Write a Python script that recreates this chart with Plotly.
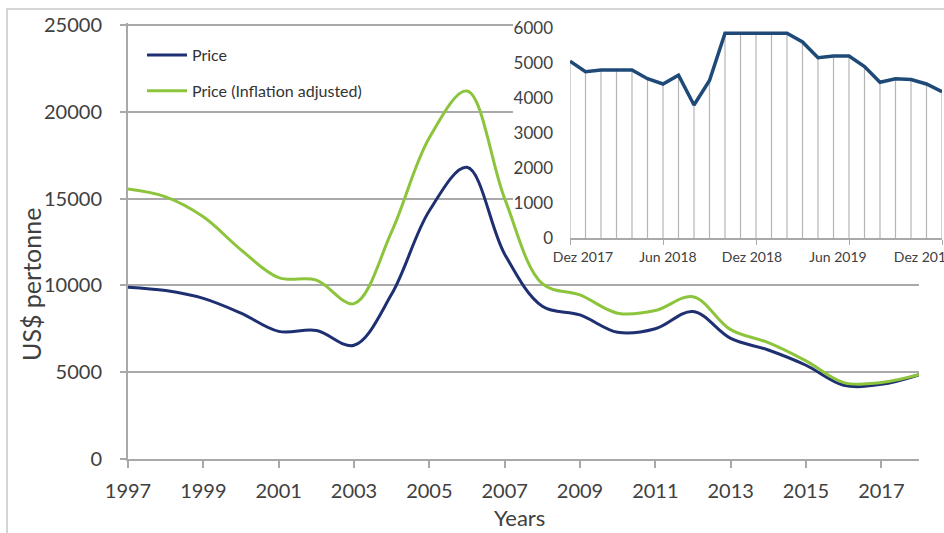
import plotly.graph_objects as go

# ---------------- data ----------------
years = [1997, 1998, 1999, 2000, 2001, 2002, 2003, 2004, 2005, 2006, 2007,
         2008, 2009, 2010, 2011, 2012, 2013, 2014, 2015, 2016, 2017, 2018]
price = [9900, 9700, 9250, 8400, 7350, 7400, 6550, 9500, 14300, 16800, 11800,
         8800, 8300, 7300, 7500, 8500, 6950, 6280, 5400, 4250, 4300, 4850]
price_adj = [15550, 15100, 13950, 12050, 10450, 10300, 8950, 13100, 18500, 21200, 15000,
             10100, 9450, 8400, 8550, 9350, 7450, 6700, 5650, 4400, 4400, 4850]
main_xticks = [1997, 1999, 2001, 2003, 2005, 2007, 2009, 2011, 2013, 2015, 2017]
main_yticks = [0, 5000, 10000, 15000, 20000, 25000]

inset_months = ["Dez 2017", "Jan 2018", "Feb 2018", "Mär 2018", "Apr 2018", "Mai 2018",
                "Jun 2018", "Jul 2018", "Aug 2018", "Sep 2018", "Okt 2018", "Nov 2018",
                "Dez 2018", "Jan 2019", "Feb 2019", "Mär 2019", "Apr 2019", "Mai 2019",
                "Jun 2019", "Jul 2019", "Aug 2019", "Sep 2019", "Okt 2019", "Nov 2019",
                "Dez 2019"]
inset_values = [5050, 4750, 4800, 4800, 4800, 4550, 4400, 4650, 3800, 4500, 5850, 5850,
                5850, 5850, 5850, 5600, 5150, 5200, 5200, 4900, 4450, 4550, 4530, 4400,
                4180]
inset_yticks = [0, 1000, 2000, 3000, 4000, 5000, 6000]

x_title = "Years"
y_title = "US$ pertonne"

# ---------------- style ----------------
W, H = 944, 533
FONT = "Lato"
TXT = "#404040"
GRID = "#a9a9a9"
BLUE = "#1e2f72"
GREEN = "#8cc43c"
INSET_BLUE = "#1f4a78"
DROP = "#b5b5b5"

Y_TOP = 25100            # a little headroom so the 25000 gridline is drawn
PX_ZERO, PX_25K = 459, 25
px_per_unit = (PX_ZERO - PX_25K) / 25000.0

INSET_PX_L, INSET_PX_R = 570, 942
# Excel spread the inset date labels slightly differently from the ticks
INSET_LABEL_PX = [583, 668, 752, 838, 924]


def px_x(p):
    return p / W


def px_y(p):
    return (H - p) / H


inset_x = list(range(len(inset_months)))
inset_tickvals = [i for i in inset_x if i % 6 == 0]
inset_ticktext = [inset_months[i] for i in inset_tickvals]
inset_span = inset_x[-1] - inset_x[0]
inset_label_pos = [(p - INSET_PX_L) / (INSET_PX_R - INSET_PX_L) * inset_span
                   for p in INSET_LABEL_PX]

fig = go.Figure()

fig.add_trace(go.Scatter(
    x=years, y=price, name="Price", mode="lines",
    line=dict(color=BLUE, width=3, shape="spline", smoothing=1.0),
    legendgroup="a", xaxis="x", yaxis="y"))
fig.add_trace(go.Scatter(
    x=years, y=price_adj, name="Price (Inflation adjusted)", mode="lines",
    line=dict(color=GREEN, width=3, shape="spline", smoothing=1.0),
    legendgroup="b", xaxis="x", yaxis="y"))

# inset drop lines
fig.add_trace(go.Scatter(
    x=inset_x, y=inset_values, mode="markers", showlegend=False,
    marker=dict(size=1, color="rgba(0,0,0,0)"),
    error_y=dict(type="data", symmetric=False, array=[0] * len(inset_values),
                 arrayminus=inset_values, width=0, thickness=1.2, color=DROP),
    xaxis="x2", yaxis="y2", hoverinfo="skip"))
fig.add_trace(go.Scatter(
    x=inset_x, y=inset_values, mode="lines", showlegend=False,
    line=dict(color=INSET_BLUE, width=3.5),
    xaxis="x2", yaxis="y2"))
# empty trace so the label-only overlay axis is drawn
fig.add_trace(go.Scatter(x=[], y=[], showlegend=False, xaxis="x3", yaxis="y2"))

x_lo, x_hi = years[0], years[-1]
mask_x0 = x_lo + (513 - 128) / (919 - 128) * (x_hi - x_lo)
mask_y0 = (PX_ZERO - 272) / px_per_unit

fig.update_layout(
    width=W, height=H, autosize=False,
    margin=dict(l=0, r=0, t=0, b=0),
    paper_bgcolor="white", plot_bgcolor="rgba(0,0,0,0)",
    font=dict(family=FONT, color=TXT),
    showlegend=True,
    legend=dict(x=px_x(142), y=px_y(38), xanchor="left", yanchor="top",
                font=dict(family=FONT, size=16, color="#333333"),
                bgcolor="rgba(0,0,0,0)", traceorder="grouped", tracegroupgap=12,
                itemwidth=40),
    xaxis=dict(domain=[px_x(128), px_x(919)], range=[x_lo, x_hi],
               tickvals=main_xticks, ticks="outside", ticklen=7, tickwidth=1.5,
               tickcolor=GRID, showline=True, linecolor=GRID, linewidth=2,
               showgrid=False, zeroline=False, tickfont=dict(size=20, color=TXT),
               ticklabelstandoff=6, automargin=False, anchor="y"),
    yaxis=dict(domain=[px_y(PX_ZERO), px_y(PX_25K - (Y_TOP - 25000) * px_per_unit)],
               range=[0, Y_TOP], tickvals=main_yticks, tickformat="d",
               ticks="outside", ticklen=6, tickwidth=1.5, tickcolor=GRID,
               showline=True, linecolor=GRID, linewidth=2,
               showgrid=True, gridcolor=GRID, gridwidth=2, zeroline=False,
               tickfont=dict(size=20, color=TXT), ticklabelstandoff=14,
               automargin=False, anchor="x"),
    xaxis2=dict(domain=[px_x(INSET_PX_L), px_x(INSET_PX_R)], range=[0, inset_span],
                tickvals=inset_tickvals, showticklabels=False,
                ticks="outside", ticklen=5, tickwidth=1.2, tickcolor=GRID,
                showline=True, linecolor=GRID, linewidth=1.5, showgrid=False,
                zeroline=False, automargin=False, anchor="y2"),
    xaxis3=dict(overlaying="x2", range=[0, inset_span], anchor="y2", side="bottom",
                tickvals=inset_label_pos, ticktext=inset_ticktext,
                ticks="", showline=False, showgrid=False, zeroline=False,
                tickfont=dict(size=14, color=TXT), ticklabelstandoff=9,
                ticklabeloverflow="allow", automargin=False),
    yaxis2=dict(domain=[px_y(238), px_y(28)], range=[0, 6000],
                tickvals=inset_yticks, ticks="", showline=False, showgrid=False,
                zeroline=False, tickfont=dict(size=17, color=TXT),
                ticklabelstandoff=16, automargin=False, anchor="x2"),
    shapes=[
        # white backing of the inset (hides the main gridlines, not the curves)
        dict(type="rect", xref="x", yref="y",
             x0=mask_x0, x1=x_hi + 2, y0=mask_y0, y1=Y_TOP + 1000,
             fillcolor="white", line=dict(width=0), layer="between"),
        # outer frame
        dict(type="rect", xref="paper", yref="paper",
             x0=px_x(7), x1=1.1, y0=-0.1, y1=px_y(9),
             fillcolor="rgba(0,0,0,0)", line=dict(color="#c8c8c8", width=1.5),
             layer="below"),
    ],
    annotations=[
        dict(text=y_title, textangle=-90, xref="paper", yref="paper",
             x=px_x(31), y=px_y(285), xanchor="center", yanchor="middle",
             showarrow=False, font=dict(family=FONT, size=25, color=TXT)),
        dict(text=x_title, xref="paper", yref="paper",
             x=px_x(519), y=px_y(517), xanchor="center", yanchor="middle",
             showarrow=False, font=dict(family=FONT, size=22, color=TXT)),
    ],
)

fig.write_html("out.html", config={"displayModeBar": False},
               post_script="document.body.style.margin='0';")
